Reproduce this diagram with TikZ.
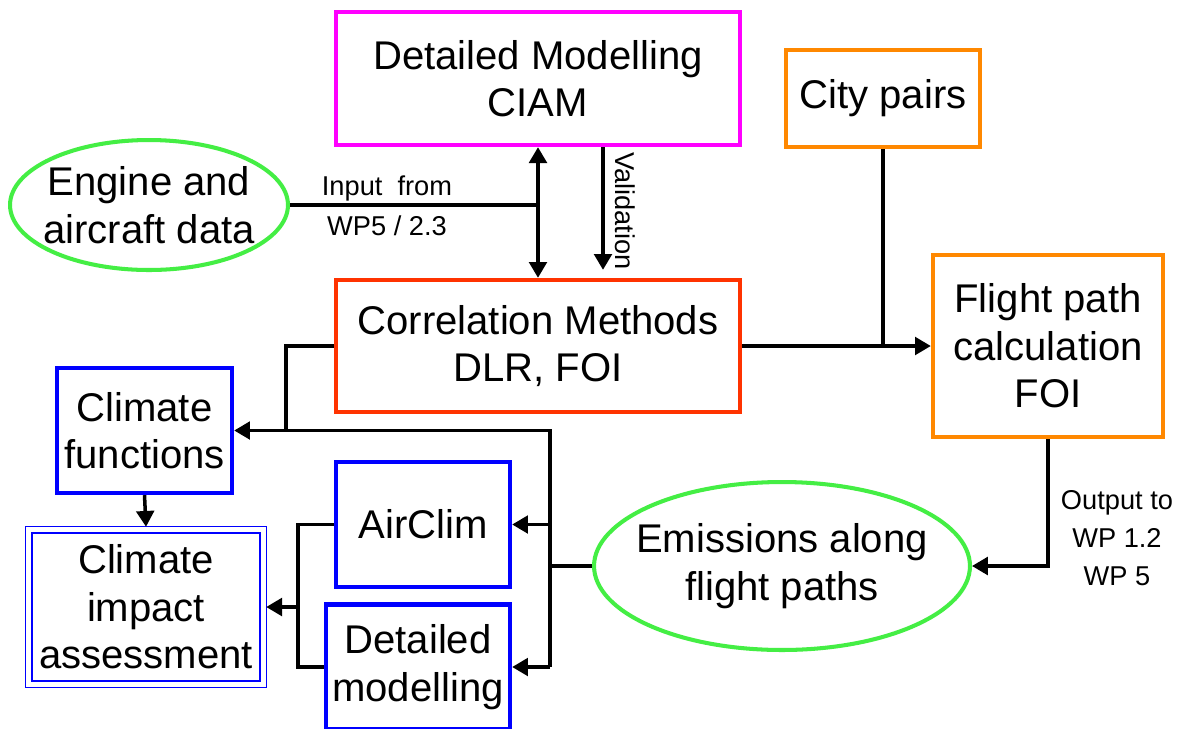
\documentclass[tikz,border=0pt]{standalone}
\usepackage{fontspec}
\setmainfont{Liberation Sans}
\usetikzlibrary{arrows.meta,calc,shapes.geometric}

\definecolor{cmag}{HTML}{FF00FF}
\definecolor{corange}{HTML}{FF8800}
\definecolor{cred}{HTML}{FF3300}
\definecolor{cblue}{HTML}{0000FF}
\definecolor{cgreen}{HTML}{44EE44}

\newcommand\lgfont{\fontsize{22.8}{27}\selectfont}
\newcommand\smfont{\fontsize{15.5}{18.5}\selectfont}

\begin{document}
\begin{tikzpicture}[x=0.02cm,y=-0.02cm,
  box/.style={draw, line width=2.5pt, inner sep=0pt, align=center, font=\lgfont},
  oval/.style={ellipse, draw=cgreen, line width=2.3pt, inner sep=0pt},
  ovaltext/.style={inner sep=0pt, align=center, font=\lgfont},
  link/.style={line width=2pt, black},
  arr/.style={link, -{Triangle[length=9pt,width=10pt]}},
  darr/.style={link, {Triangle[length=9pt,width=10pt]}-{Triangle[length=9pt,width=10pt]}},
  note/.style={font=\smfont, align=center, inner sep=0pt}]

\clip (0,0) rectangle (1177,728);
\fill[white] (0,0) rectangle (1177,728);

% boxes and ovals
\node[box, draw=cmag, minimum width=8.08cm, minimum height=2.66cm] (ciam) at (538,78.5) {Detailed Modelling\\CIAM};
\node[box, draw=corange, minimum width=3.88cm, minimum height=1.94cm] (city) at (883,98.5) {City pairs};
\node[oval, minimum width=5.56cm, minimum height=2.6cm] (engine) at (149,205) {};
\node[ovaltext] (enginetxt) at (engine.center) {Engine and\\aircraft data};
\node[box, draw=cred, minimum width=8.08cm, minimum height=2.64cm] (corr) at (538,346) {Correlation Methods\\DLR, FOI};
\node[box, draw=corange, minimum width=4.6cm, minimum height=3.64cm] (flight) at (1048,346) {Flight path\\calculation\\FOI};
\node[box, draw=cblue, minimum width=3.5cm, minimum height=2.5cm] (climf) at (144.5,430.5) {Climate\\functions};
\node[box, draw=cblue, line width=1.4pt, minimum width=4.56cm, minimum height=2.96cm] (impact) at (146,607) {Climate\\impact\\assessment};
\draw[cblue, line width=0.8pt] ([shift={(-5,5)}]impact.south west) rectangle ([shift={(5,-5)}]impact.north east);
\node[box, draw=cblue, minimum width=3.48cm, minimum height=2.5cm] (airclim) at (423,524.5) {AirClim};
\node[box, draw=cblue, minimum width=3.68cm, minimum height=2.5cm] (detmod) at (418,667) {Detailed\\modelling};
\node[oval, minimum width=7.52cm, minimum height=3.36cm] (emis) at (782,566) {};
\node[ovaltext] (emistxt) at (emis.center) {Emissions along\\flight paths};

% reference columns for the vertical connector runs
\coordinate (bx) at (550,0);
\coordinate (cx) at (286,0);
\coordinate (lx) at (298,0);
\coordinate (vx) at (603,0);

% input and validation between CIAM and the correlation methods
\draw[link] (engine.east) -- (engine.east -| ciam.south);
\draw[darr] (ciam.south) -- (corr.north);
\draw[arr] (vx |- ciam.south) -- ($(vx |- corr.north)+(0,-8)$);
\node[note] (inlbl) at (387,206) {Input\ \ from\\[4pt]WP5 / 2.3};
\node[note, rotate=-90] (vallbl) at (625,211) {Validation};

% flight path calculation
\draw[arr] (corr.east) -- (flight.west);
\draw[link] (city.south) -- (city.south |- corr.east);
\draw[arr] (flight.south) |- (emis.east);
\node[note] (outlbl) at (1117,538) {Output to\\[3pt]WP 1.2\\[3pt]WP 5};

% distribution of the emissions
\draw[link] (emis.west) -- (bx |- emis.west);
\draw[arr] (bx |- detmod.east) -- (bx |- climf.east) -- (climf.east);
\draw[arr] (bx |- airclim.east) -- (airclim.east);
\draw[arr] (bx |- detmod.east) -- (detmod.east);
\draw[link] (corr.west) -- (cx |- corr.west) -- (cx |- climf.east);

% climate impact assessment inputs
\draw[arr] (climf.south) -- ($(impact.north)+(0,-5)$);
\draw[link] (airclim.west) -- (lx |- airclim.west) -- (lx |- detmod.west) -- (detmod.west);
\draw[arr] (lx |- impact.east) -- ($(impact.east)+(5,0)$);

\end{tikzpicture}
\end{document}
